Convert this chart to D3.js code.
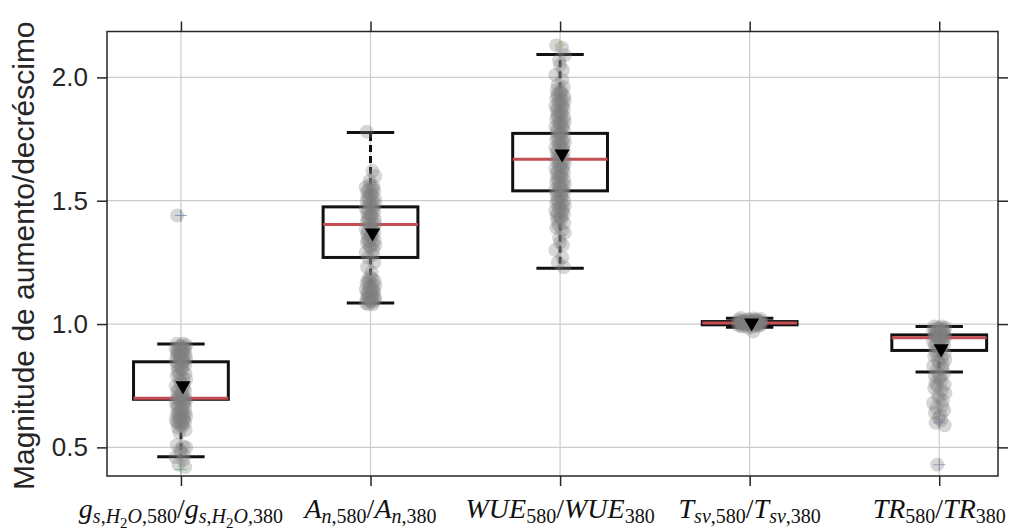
<!DOCTYPE html>
<html lang="pt">
<head>
<meta charset="UTF-8">
<title>Magnitude de aumento/decréscimo</title>
<script src="https://d3js.org/d3.v7.min.js"></script>
<style>
  body { margin: 0; background: #fff; }
  .grid line { stroke: #cccccc; stroke-width: 1.2px; }
  .tick text { font-family: "Liberation Sans", Arial, sans-serif; font-size: 26px; fill: #262626; }
  .xlab { font-family: "Liberation Serif", "DejaVu Serif", serif; font-size: 28px; fill: #111; }
</style>
</head>
<body>
<svg width="1013" height="531"></svg>
<script>
// categories (in draw order)
const categories = ["gs", "An", "WUE", "Tsv", "TR"];

// tick label pieces: [text, level (0 base, 1 sub, 2 subsub), italic]
const tickLabels = [
  [["g",0,1],["s",1,1],[",",1,0],["H",1,1],["2",2,0],["O",1,1],[",580",1,0],["/",0,0],
   ["g",0,1],["s",1,1],[",",1,0],["H",1,1],["2",2,0],["O",1,1],[",380",1,0]],
  [["A",0,1],["n",1,1],[",580",1,0],["/",0,0],["A",0,1],["n",1,1],[",380",1,0]],
  [["WUE",0,1],["580",1,0],["/",0,0],["WUE",0,1],["380",1,0]],
  [["T",0,1],["sv",1,1],[",580",1,0],["/",0,0],["T",0,1],["sv",1,1],[",380",1,0]],
  [["TR",0,1],["580",1,0],["/",0,0],["TR",0,1],["380",1,0]]
];

const yTicks = [0.5, 1.0, 1.5, 2.0];

// box statistics
const whiskLow  = [0.462, 1.085, 1.226, 0.987, 0.806];
const q1        = [0.695, 1.270, 1.540, 0.997, 0.893];
const median    = [0.699, 1.404, 1.668, 1.004, 0.944];
const q3        = [0.847, 1.475, 1.773, 1.010, 0.956];
const whiskHigh = [0.919, 1.777, 2.093, 1.024, 0.990];
const means     = [0.750, 1.370, 1.690, 1.005, 0.900];

// individual ratios (approximate, per category)
const gsVals = [0.92,0.92,0.915,0.91,0.91,0.905,0.90,0.90,0.90,0.895,0.89,0.89,0.885,0.88,0.88,0.875,0.87,0.87,
  0.865,0.86,0.86,0.855,0.85,0.85,0.845,0.84,0.835,0.83,0.825,0.82,0.815,0.81,0.80,0.795,0.79,0.78,0.775,0.77,
  0.76,0.755,0.75,0.74,0.735,0.73,0.725,0.72,0.715,0.71,0.705,0.70,0.70,0.695,0.695,0.69,0.69,0.685,0.68,0.68,
  0.675,0.67,0.665,0.66,0.655,0.65,0.645,0.64,0.64,0.635,0.63,0.63,0.625,0.62,0.62,0.615,0.61,0.61,0.605,0.60,
  0.60,0.595,0.59,0.585,0.58,0.57,0.56,0.51,0.505,0.50,0.49,0.48,0.47,0.46,0.45,0.43,0.42,1.44];
const anVals = [1.78,1.62,1.60,1.58,1.565,1.56,1.555,1.55,1.545,1.54,1.535,1.53,1.525,1.52,1.515,1.51,1.505,1.50,
  1.495,1.49,1.485,1.48,1.475,1.47,1.465,1.46,1.455,1.45,1.445,1.44,1.435,1.43,1.425,1.42,1.415,1.41,1.405,1.40,
  1.395,1.39,1.385,1.38,1.375,1.37,1.365,1.36,1.355,1.35,1.345,1.34,1.335,1.33,1.325,1.32,1.315,1.31,1.30,1.29,
  1.28,1.27,1.25,1.23,1.21,1.19,1.185,1.18,1.175,1.17,1.165,1.16,1.155,1.15,1.145,1.14,1.14,1.135,1.13,1.13,
  1.125,1.12,1.12,1.115,1.11,1.11,1.105,1.10,1.10,1.10,1.095,1.09,1.09,1.085,1.08,1.08];
const wueVals = [2.13,2.12,2.09,2.07,2.05,2.03,2.01,1.99,1.97,1.96,1.95,1.945,1.94,1.935,1.93,1.925,1.92,1.915,
  1.91,1.905,1.90,1.895,1.89,1.885,1.88,1.875,1.87,1.865,1.86,1.855,1.85,1.845,1.84,1.835,1.83,1.825,1.82,1.815,
  1.81,1.805,1.80,1.795,1.79,1.785,1.78,1.775,1.77,1.765,1.76,1.755,1.75,1.745,1.74,1.735,1.73,1.725,1.72,1.715,
  1.71,1.705,1.70,1.695,1.69,1.685,1.68,1.675,1.67,1.665,1.66,1.655,1.65,1.645,1.64,1.635,1.63,1.625,1.62,1.615,
  1.61,1.605,1.60,1.595,1.59,1.585,1.58,1.575,1.57,1.565,1.56,1.555,1.55,1.545,1.54,1.535,1.53,1.525,1.52,1.515,
  1.51,1.505,1.50,1.495,1.49,1.485,1.48,1.475,1.47,1.465,1.46,1.455,1.45,1.445,1.44,1.435,1.43,1.425,1.42,1.41,
  1.40,1.39,1.38,1.37,1.35,1.33,1.32,1.30,1.27,1.25,1.23];
const tsvVals = [1.025,1.022,1.02,1.019,1.018,1.017,1.016,1.015,1.014,1.013,1.012,1.012,1.011,1.01,1.01,1.009,
  1.008,1.008,1.007,1.007,1.006,1.005,1.005,1.005,1.004,1.004,1.003,1.003,1.002,1.002,1.001,1.0,1.0,1.0,1.0,
  0.999,0.998,0.998,0.997,0.996,0.995,0.994,0.993,0.992,0.99,0.988,0.985,0.97];
const trVals = [0.99,0.99,0.985,0.985,0.98,0.98,0.975,0.975,0.97,0.97,0.965,0.965,0.96,0.96,0.955,0.955,0.95,0.95,
  0.945,0.945,0.94,0.94,0.935,0.93,0.925,0.92,0.915,0.91,0.905,0.90,0.895,0.89,0.88,0.875,0.87,0.86,0.855,0.85,
  0.84,0.835,0.83,0.82,0.81,0.80,0.79,0.785,0.78,0.77,0.76,0.755,0.75,0.74,0.73,0.72,0.71,0.70,0.69,0.68,
  0.67,0.66,0.65,0.64,0.63,0.62,0.61,0.60,0.59,0.43];
const values = [gsVals, anVals, wueVals, tsvVals, trVals];

// flier markers (+)
const flierCat = [0, 0, 2, 4, 4];
const flierVal = [1.44, 0.41, 2.13, 0.43, 0.60];
const flierCol = ["#4c72b0", "#55a868", "#ccb974", "#8172b2", "#8172b2"];

const svg = d3.select("svg");
const mLeft = 107, mRight = 998, mTop = 31.5, mBottom = 476;

const x = d3.scaleLinear().domain([0.61, 5.31]).range([mLeft, mRight]);
const y = d3.scaleLinear().domain([0.384, 2.186]).range([mBottom, mTop]);
const pos = i => x(i + 1);

// jitter pattern in category units, widened for the flat Tsv cloud
const jit = [-0.02, 0.01, 0.025, -0.005, 0.0, 0.015, -0.025, 0.012, -0.012, 0.02, -0.018, 0.005, -0.003, 0.008, -0.015, 0.022, -0.008];
const jitScale = [1.1, 1, 1, 2.4, 1.3];

// grid
const grid = svg.append("g").attr("class", "grid");
grid.selectAll(".gy").data(yTicks).join("line")
  .attr("x1", mLeft).attr("x2", mRight).attr("y1", d => y(d)).attr("y2", d => y(d));
grid.selectAll(".gx").data(categories).join("line")
  .attr("x1", (d, i) => pos(i)).attr("x2", (d, i) => pos(i)).attr("y1", mTop).attr("y2", mBottom);

// boxes
const boxW = 0.5, capW = 0.25;
const bx = svg.append("g");
categories.forEach((c, i) => {
  const cx = pos(i);
  const hw = (x(1 + boxW / 2) - x(1));
  const cw = (x(1 + capW / 2) - x(1));
  const g = bx.append("g");
  // whiskers
  g.append("line").attr("x1", cx).attr("x2", cx).attr("y1", y(q3[i])).attr("y2", y(whiskHigh[i]))
    .attr("stroke", "#111").attr("stroke-width", 3).attr("stroke-dasharray", "7,4");
  g.append("line").attr("x1", cx).attr("x2", cx).attr("y1", y(q1[i])).attr("y2", y(whiskLow[i]))
    .attr("stroke", "#111").attr("stroke-width", 3).attr("stroke-dasharray", "7,4");
  [whiskHigh[i], whiskLow[i]].forEach(v => {
    g.append("line").attr("x1", cx - cw).attr("x2", cx + cw).attr("y1", y(v)).attr("y2", y(v))
      .attr("stroke", "#111").attr("stroke-width", 3);
  });
  g.append("rect").attr("x", cx - hw).attr("width", 2 * hw)
    .attr("y", y(q3[i])).attr("height", Math.max(0.5, y(q1[i]) - y(q3[i])))
    .attr("fill", "none").attr("stroke", "#111").attr("stroke-width", 3);
  g.append("line").attr("x1", cx - hw).attr("x2", cx + hw).attr("y1", y(median[i])).attr("y2", y(median[i]))
    .attr("stroke", "#c44e52").attr("stroke-width", 3);
});

// points
const pts = svg.append("g");
values.forEach((vals, i) => {
  pts.selectAll(null).data(vals).join("circle")
    .attr("cx", (d, k) => x(i + 1 + jitScale[i] * jit[k % jit.length]))
    .attr("cy", d => y(d))
    .attr("r", 7)
    .attr("fill", "#808080")
    .attr("fill-opacity", 0.32);
});

// fliers
svg.append("g").selectAll("path").data(flierVal).join("path")
  .attr("transform", (d, k) => `translate(${pos(flierCat[k])},${y(d)})`)
  .attr("d", "M-6,0H6M0,-6V6")
  .attr("stroke", (d, k) => flierCol[k]).attr("stroke-width", 1).attr("opacity", 0.6);

// means
svg.append("g").selectAll("path").data(means).join("path")
  .attr("transform", (d, i) => `translate(${pos(i) + 2},${y(d)}) rotate(180)`)
  .attr("d", d3.symbol(d3.symbolTriangle, 100))
  .attr("fill", "#000");

// frame
svg.append("rect").attr("x", mLeft).attr("y", mTop).attr("width", mRight - mLeft).attr("height", mBottom - mTop)
  .attr("fill", "none").attr("stroke", "#262626").attr("stroke-width", 1.5);

// axes
const yAxisL = d3.axisLeft(y).tickValues(yTicks).tickFormat(d3.format(".1f")).tickSize(10).tickPadding(9).tickSizeOuter(0);
const yAxisR = d3.axisRight(y).tickValues(yTicks).tickFormat("").tickSize(10).tickSizeOuter(0);
const xAxisB = d3.axisBottom(x).tickValues(categories.map((c, i) => i + 1)).tickFormat("").tickSize(10).tickSizeOuter(0);
const xAxisT = d3.axisTop(x).tickValues(categories.map((c, i) => i + 1)).tickFormat("").tickSize(10).tickSizeOuter(0);

[[yAxisL, `translate(${mLeft},0)`], [yAxisR, `translate(${mRight},0)`],
 [xAxisB, `translate(0,${mBottom})`], [xAxisT, `translate(0,${mTop})`]].forEach(([ax, tr]) => {
  const g = svg.append("g").attr("transform", tr).call(ax);
  g.select(".domain").remove();
  g.selectAll(".tick line").attr("stroke", "#262626").attr("stroke-width", 1.5);
});

// x tick labels with subscripts
const levelSize = [28, 20, 15];
const levelShift = [0, 5, 10];
tickLabels.forEach((parts, i) => {
  const t = svg.append("text").attr("class", "xlab")
    .attr("x", pos(i)).attr("y", 518).attr("text-anchor", "middle");
  let cur = 0;
  parts.forEach(([s, lvl, it]) => {
    const shift = levelShift[lvl];
    t.append("tspan").text(s)
      .attr("dy", shift - cur)
      .attr("font-size", levelSize[lvl])
      .attr("font-style", it ? "italic" : "normal");
    cur = shift;
  });
});

// y label
svg.append("text")
  .attr("transform", `translate(34,${(mTop + mBottom) / 2 + 2}) rotate(-90)`)
  .attr("text-anchor", "middle")
  .attr("font-family", "Liberation Sans, Arial, sans-serif")
  .attr("font-size", 30)
  .attr("fill", "#262626")
  .text("Magnitude de aumento/decréscimo");
</script>
</body>
</html>
